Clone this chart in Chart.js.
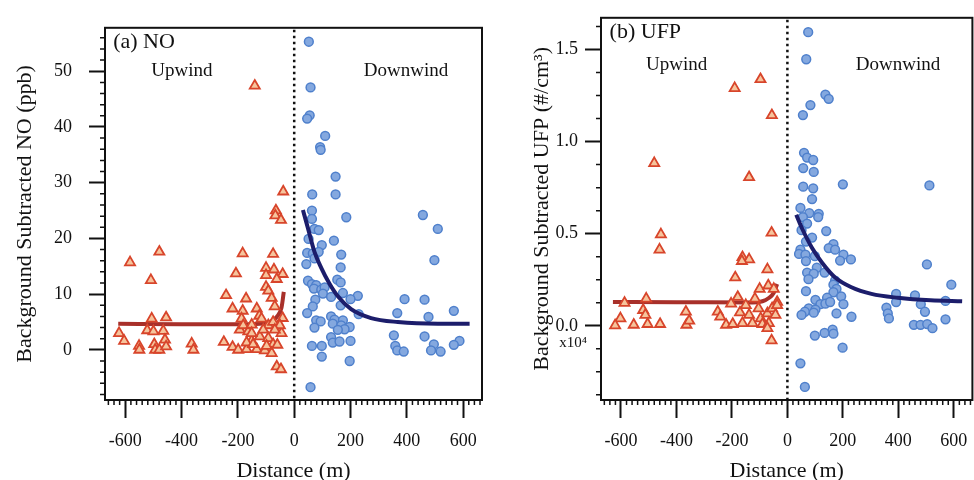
<!DOCTYPE html>
<html>
<head>
<meta charset="utf-8">
<title>Upwind / downwind NO and UFP</title>
<script src="https://cdn.jsdelivr.net/npm/chart.js@4.4.1/dist/chart.umd.min.js"></script>
<style>
  html, body { margin: 0; padding: 0; background: #fff; overflow: hidden; }
  #wrap  { position: relative; width: 974px; height: 480px; overflow: hidden; }
  .panel { position: absolute; top: 0; width: 490px; height: 480px; }
  #panel-a { left: 0; }
  #panel-b { left: 490px; }
</style>
</head>
<body>
<div id="wrap">
  <div class="panel" id="panel-a"><canvas id="chart-no" width="490" height="480"></canvas></div>
  <div class="panel" id="panel-b"><canvas id="chart-ufp" width="490" height="480"></canvas></div>
</div>
<script>
/* global Chart */

// ─────────────────────────────────────────────
// DATA — values
// ─────────────────────────────────────────────
const X_TICKS     = [-600, -400, -200, 0, 200, 400, 600];
const NO_Y_TICKS  = [0, 10, 20, 30, 40, 50];
const UFP_Y_TICKS = [0, 0.5, 1.0, 1.5];

// (a) NO, ppb — upwind triangles
const NO_UP_X = [-583, -479, -509, -506, -455, -622, -604, -551, -550, -522, -500, -497, -494, -479, -465,
  -459, -455, -364, -358, -242, -207, -183, -171, -219, -183, -187, -250, -219, -199, -193, -163, -169,
  -151, -133, -124, -122, -133, -100, -75, -100, -72, -41, -62, -100, -92, -80, -69, -41, -45, -92, -110,
  -92, -75, -104, -80, -60, -62, -47, -169, -146, -181, -151, -116, -75, -51, -69, -151, -98, -140, -39,
  -65, -67, -47];
const NO_UP_Y = [15.7, 17.6, 12.5, 5.6, 5.8, 3.0, 1.6, 0.7, 0.0, 3.5, 3.3, 1.0, 0.0, 0.0, 3.4,
  1.8, 0.6, 1.1, 0.0, 9.8, 13.7, 17.3, 9.2, 7.4, 7.0, 5.6, 1.4, 0.5, 0.0, 3.6, 3.3, 0.1,
  1.6, 7.4, 6.1, 2.4, 0.1, 14.7, 17.2, 13.4, 14.4, 13.6, 12.7, 11.3, 10.6, 9.3, 7.8, 5.7, 3.0, 4.4, 3.6,
  2.1, 1.0, -0.1, -0.6, 0.9, -3.0, -3.5, 1.3, 1.0, 4.4, 4.5, 5.6, 5.0, 4.4, 3.6, 3.0, 0.7, 47.4, 28.4,
  25.0, 24.1, 23.3];

// (a) NO, ppb — downwind circles
const NO_DOWN_X = [52, 58, 55, 46, 110, 92, 94, 147, 64, 147, 63, 185, 457, 63, 510, 72, 87, 51, 98, 141,
  46, 66, 87, 167, 43, 72, 165, 498, 49, 63, 78, 70, 96, 108, 153, 165, 102, 173, 226, 131, 200, 392,
  463, 75, 66, 165, 46, 229, 366, 567, 477, 78, 94, 131, 143, 137, 173, 167, 72, 197, 179, 155, 131,
  354, 463, 137, 161, 200, 63, 98, 359, 496, 587, 567, 366, 389, 486, 520, 98, 197, 58];
const NO_DOWN_Y = [55.3, 47.1, 42.1, 41.5, 38.4, 36.4, 35.9, 31.1, 27.9, 27.9, 25.0, 23.8, 24.2, 23.5, 21.7,
  21.7, 21.5, 19.9, 18.8, 19.6, 17.4, 17.3, 17.6, 17.1, 15.4, 16.4, 14.8, 16.1, 12.4, 11.8, 11.6, 11.0,
  10.8, 11.2, 12.6, 12.1, 10.1, 10.2, 9.7, 9.5, 9.1, 9.1, 9.0, 9.0, 7.8, 8.0, 6.6, 6.4, 6.6, 7.0, 5.9,
  5.3, 5.1, 6.0, 5.4, 4.7, 5.3, 4.4, 4.0, 4.1, 3.7, 3.6, 2.3, 2.6, 2.4, 1.3, 1.5, 1.6, 0.7, 0.7, 0.7,
  1.0, 1.6, 0.9, -0.1, -0.3, -0.1, -0.3, -1.2, -2.0, -6.7];

// (a) NO — fitted curves
const NO_FIT_UP_X   = [-625, -400, -193, -122, -86, -62, -45, -37];
const NO_FIT_UP_Y   = [4.7, 4.6, 4.6, 4.7, 5.0, 5.9, 7.6, 10.4];
const NO_FIT_DOWN_X = [31, 49, 72, 96, 126, 155, 202, 273, 368, 510, 623];
const NO_FIT_DOWN_Y = [25.1, 21.8, 17.6, 14.7, 11.8, 9.6, 7.3, 5.7, 5.0, 4.7, 4.7];

// (b) UFP, x10^4 #/cm3 — upwind triangles
const UFP_UP_X = [-480, -138, -456, -461, -57, -162, -138, -164, -72, -188, -100, -179, -509, -587, -69,
  -49, -37, -520, -512, -366, -251, -242, -602, -621, -554, -504, -459, -364, -354, -221, -197, -171,
  -162, -138, -126, -104, -96, -90, -72, -67, -55, -43, -37, -72, -57, -203, -150, -117, -190, -97, -56];
const UFP_UP_Y = [0.883, 0.806, 0.496, 0.413, 0.505, 0.372, 0.360, 0.351, 0.306, 0.262, 0.200, 0.156,
  0.147, 0.124, 0.218, 0.200, 0.129, 0.085, 0.059, 0.076, 0.076, 0.049, 0.040, 0.002, 0.005, 0.009,
  0.009, 0.005, 0.027, 0.005, 0.009, 0.072, 0.014, 0.059, 0.014, 0.094, 0.040, 0.009, 0.067, 0.014,
  0.094, 0.059, 0.112, -0.013, -0.080, 0.120, 0.112, 0.147, 1.290, 1.338, 1.143];

// (b) UFP — downwind circles
const UFP_DOWN_X = [75, 68, 137, 149, 83, 56, 60, 71, 93, 57, 95, 200, 512, 57, 93, 89, 47, 79, 113,
  56, 111, 71, 51, 89, 140, 67, 166, 149, 172, 47, 42, 65, 99, 202, 190, 229, 67, 106, 71, 134, 95, 76,
  503, 172, 166, 177, 67, 166, 591, 194, 392, 460, 392, 101, 119, 143, 137, 154, 202, 481, 570, 77, 101,
  95, 63, 51, 177, 231, 357, 362, 366, 496, 456, 480, 504, 523, 570, 99, 134, 163, 166, 199, 47, 63];
const UFP_DOWN_Y = [1.594, 1.447, 1.255, 1.232, 1.198, 1.144, 0.939, 0.913, 0.900, 0.856, 0.835, 0.768,
  0.762, 0.755, 0.746, 0.688, 0.640, 0.612, 0.608, 0.590, 0.590, 0.555, 0.519, 0.479, 0.514, 0.457,
  0.443, 0.422, 0.413, 0.413, 0.390, 0.386, 0.378, 0.386, 0.354, 0.360, 0.351, 0.315, 0.289, 0.289,
  0.283, 0.253, 0.333, 0.245, 0.223, 0.200, 0.188, 0.182, 0.223, 0.160, 0.173, 0.165, 0.129, 0.141,
  0.117, 0.152, 0.120, 0.129, 0.117, 0.117, 0.135, 0.094, 0.088, 0.071, 0.076, 0.059, 0.067, 0.049,
  0.099, 0.067, 0.040, 0.076, 0.005, 0.005, 0.009, -0.013, 0.035, -0.053, -0.039, -0.021, -0.043,
  -0.119, -0.204, -0.332];

// (b) UFP — fitted curves
const UFP_FIT_UP_X   = [-629, -400, -126, -90, -67, -49, -37];
const UFP_FIT_UP_Y   = [0.129, 0.128, 0.126, 0.133, 0.151, 0.179, 0.227];
const UFP_FIT_DOWN_X = [32, 53, 89, 125, 172, 231, 303, 398, 516, 630];
const UFP_FIT_DOWN_Y = [0.603, 0.528, 0.422, 0.342, 0.262, 0.209, 0.173, 0.152, 0.138, 0.133];

// ─────────────────────────────────────────────
// STYLE
// ─────────────────────────────────────────────
const INK       = '#111';
const SERIF     = "'Liberation Serif', 'DejaVu Serif', serif";
const TRI_EDGE  = '#d8452b';
const TRI_FILL  = '#f6c49c';
const DOT_EDGE  = '#4f80cc';
const DOT_FILL  = '#84a8df';
const FIT_RED   = '#a8302a';
const FIT_BLUE  = '#1c1d6b';
const X_MINOR_STEP = 20;

// ─────────────────────────────────────────────
// HELPERS
// ─────────────────────────────────────────────
const pts = (xs, ys) => xs.map((x, i) => ({ x, y: ys[i] }));

function isMajor(v, ticks) {
  return ticks.some(t => Math.abs(t - v) < 1e-6);
}

// frame box, dotted divider at 0, minor ticks and in-plot labels
const framePlugin = {
  id: 'frame',
  beforeDatasetsDraw(chart) {
    const { ctx, chartArea: a, scales: { x } } = chart;
    const x0 = x.getPixelForValue(0);
    ctx.save();
    ctx.strokeStyle = INK;
    ctx.lineWidth = 2.5;
    ctx.setLineDash([2.5, 3.5]);
    ctx.beginPath();
    ctx.moveTo(x0, a.top + 2);
    ctx.lineTo(x0, a.bottom);
    ctx.stroke();
    ctx.restore();
  },
  afterDraw(chart, args, opts) {
    const { ctx, chartArea: a, scales: { x, y } } = chart;
    ctx.save();

    ctx.strokeStyle = INK;
    ctx.lineWidth = 2;
    ctx.strokeRect(a.left, a.top, a.right - a.left, a.bottom - a.top);

    // minor ticks
    ctx.lineWidth = 1.5;
    ctx.beginPath();
    for (let v = Math.ceil(x.min / X_MINOR_STEP) * X_MINOR_STEP; v <= x.max; v += X_MINOR_STEP) {
      if (isMajor(v, X_TICKS)) continue;
      const px = x.getPixelForValue(v);
      ctx.moveTo(px, a.bottom);
      ctx.lineTo(px, a.bottom + 5);
    }
    const ys = opts.yMinorStep;
    for (let v = Math.ceil(y.min / ys) * ys; v <= y.max; v += ys) {
      if (isMajor(v, opts.yTicks)) continue;
      const py = y.getPixelForValue(v);
      ctx.moveTo(a.left, py);
      ctx.lineTo(a.left - 5, py);
    }
    ctx.stroke();

    // text inside the frame
    ctx.fillStyle = INK;
    ctx.textBaseline = 'middle';
    opts.notes.forEach(n => {
      ctx.font = `${n.size}px ${SERIF}`;
      ctx.textAlign = n.align;
      ctx.fillText(n.text, x.getPixelForValue(n.x), y.getPixelForValue(n.y));
    });

    if (opts.exponent) {
      ctx.font = `15px ${SERIF}`;
      ctx.textAlign = 'right';
      ctx.fillText(opts.exponent, a.left - 14, y.getPixelForValue(0) + 17);
    }
    ctx.restore();
  }
};

// ─────────────────────────────────────────────
// CHART BUILDER
// ─────────────────────────────────────────────
function buildPanel(canvasId, p) {
  const ctx = document.getElementById(canvasId).getContext('2d');
  return new Chart(ctx, {
    type: 'scatter',
    data: {
      datasets: [
        {
          label: 'Upwind fit',
          data: pts(p.fitUpX, p.fitUpY),
          showLine: true,
          borderColor: FIT_RED,
          borderWidth: 4,
          pointRadius: 0,
          cubicInterpolationMode: 'monotone',
          order: 3
        },
        {
          label: 'Upwind',
          data: pts(p.upX, p.upY),
          pointStyle: 'triangle',
          pointRadius: 5.8,
          pointBorderWidth: 1.8,
          backgroundColor: TRI_FILL,
          borderColor: TRI_EDGE,
          order: 2
        },
        {
          label: 'Downwind',
          data: pts(p.downX, p.downY),
          pointStyle: 'circle',
          pointRadius: 4.4,
          pointBorderWidth: 1.5,
          backgroundColor: DOT_FILL,
          borderColor: DOT_EDGE,
          order: 1
        },
        {
          label: 'Downwind fit',
          data: pts(p.fitDownX, p.fitDownY),
          showLine: true,
          borderColor: FIT_BLUE,
          borderWidth: 4,
          pointRadius: 0,
          cubicInterpolationMode: 'monotone',
          order: 0
        }
      ]
    },
    options: {
      responsive: false,
      animation: false,
      layout: { padding: { top: 10, right: p.padRight, left: 0, bottom: 0 } },
      plugins: {
        legend: { display: false },
        tooltip: { enabled: false },
        frame: {
          yTicks: p.yTicks,
          yMinorStep: p.yMinorStep,
          notes: p.notes,
          exponent: p.exponent
        }
      },
      scales: {
        x: {
          type: 'linear',
          min: -672,
          max: 667,
          afterBuildTicks: s => { s.ticks = X_TICKS.map(v => ({ value: v })); },
          afterFit: s => { s.height = 80; },
          border: { display: false },
          grid: { drawOnChartArea: false, tickLength: 18, tickWidth: 2, tickColor: INK },
          ticks: {
            color: INK, font: { family: SERIF, size: 18 }, padding: 12,
            maxRotation: 0, autoSkip: false, callback: v => String(v)
          },
          title: {
            display: true, text: 'Distance (m)', color: INK,
            font: { family: SERIF, size: 22 }, padding: { top: 0, bottom: -4 }
          }
        },
        y: {
          type: 'linear',
          min: p.yMin,
          max: p.yMax,
          afterBuildTicks: s => { s.ticks = p.yTicks.map(v => ({ value: v })); },
          afterFit: s => { s.width = p.yWidth; },
          border: { display: false },
          grid: { drawOnChartArea: false, tickLength: 16, tickWidth: 2, tickColor: INK },
          ticks: {
            color: INK, font: { family: SERIF, size: 18 }, padding: p.yPad,
            autoSkip: false, callback: p.yFormat
          },
          title: {
            display: true, text: p.yTitle, color: INK,
            font: { family: SERIF, size: 22 }, padding: { top: p.yTitlePad, bottom: 0 }
          }
        }
      }
    },
    plugins: [framePlugin]
  });
}

// ─────────────────────────────────────────────
// PANELS
// ─────────────────────────────────────────────
buildPanel('chart-no', {
  upX: NO_UP_X, upY: NO_UP_Y, downX: NO_DOWN_X, downY: NO_DOWN_Y,
  fitUpX: NO_FIT_UP_X, fitUpY: NO_FIT_UP_Y, fitDownX: NO_FIT_DOWN_X, fitDownY: NO_FIT_DOWN_Y,
  yTicks: NO_Y_TICKS, yMin: -9, yMax: 57.8, yMinorStep: 2,
  yFormat: v => String(v),
  yTitle: 'Background Subtracted NO (ppb)',
  yWidth: 105, yPad: 17, yTitlePad: 12, padRight: 8,
  notes: [
    { text: '(a) NO',   x: -643, y: 55.2, align: 'left',   size: 22 },
    { text: 'Upwind',   x: -399, y: 50.1, align: 'center', size: 19 },
    { text: 'Downwind', x: 397,  y: 50.1, align: 'center', size: 19 }
  ]
});

buildPanel('chart-ufp', {
  upX: UFP_UP_X, upY: UFP_UP_Y, downX: UFP_DOWN_X, downY: UFP_DOWN_Y,
  fitUpX: UFP_FIT_UP_X, fitUpY: UFP_FIT_UP_Y, fitDownX: UFP_FIT_DOWN_X, fitDownY: UFP_FIT_DOWN_Y,
  yTicks: UFP_Y_TICKS, yMin: -0.403, yMax: 1.672, yMinorStep: 0.125,
  yFormat: v => v.toFixed(1),
  yTitle: 'Background Subtracted UFP (#/cm³)',
  yWidth: 111, yPad: 7, yTitlePad: 39, padRight: 3,
  exponent: 'x10⁴',
  notes: [
    { text: '(b) UFP',  x: -641, y: 1.592, align: 'left',   size: 22 },
    { text: 'Upwind',   x: -399, y: 1.416, align: 'center', size: 19 },
    { text: 'Downwind', x: 399,  y: 1.416, align: 'center', size: 19 }
  ]
});
</script>
</body>
</html>
